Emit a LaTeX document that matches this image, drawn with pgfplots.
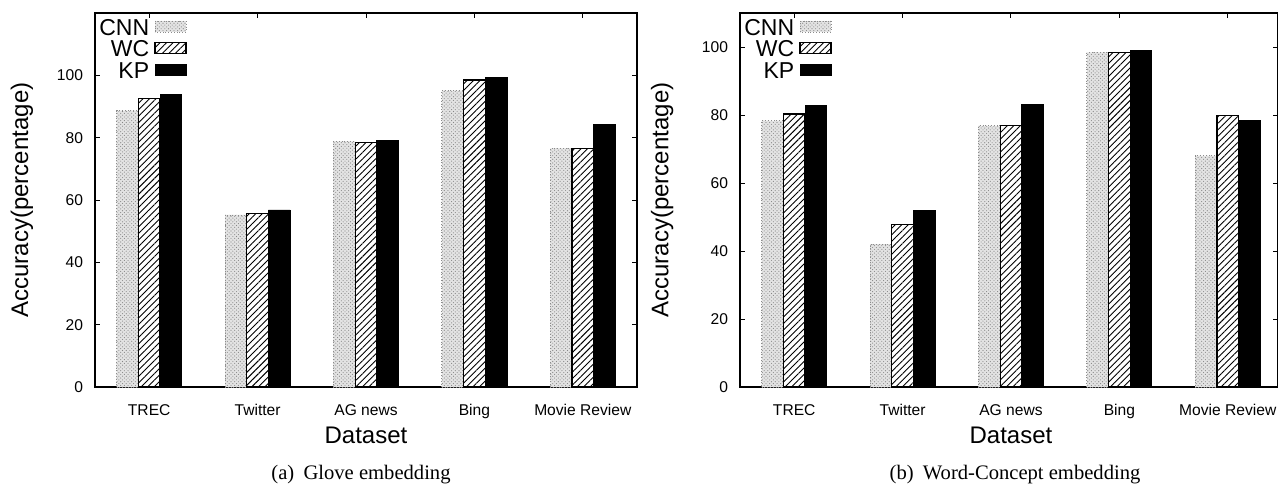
\documentclass[border=0pt]{standalone}
\usepackage{fontspec}
\setmainfont{Liberation Serif}
\newfontfamily\chartfont{Liberation Sans}
\usepackage{pgfplots}
\usepackage{pgfplotstable}
\pgfplotsset{compat=1.18}
\usetikzlibrary{patterns.meta}

% x: 0 TREC, 1 Twitter, 2 AG news, 3 Bing, 4 Movie Review
\pgfplotstableread{
x cnn wc kp
0 88.7 92.6 94.0
1 55.2 55.6 56.8
2 78.8 78.4 79.1
3 95.1 98.5 99.3
4 76.6 76.6 84.2
}\glove
\pgfplotstableread{
x cnn wc kp
0 78.3 80.3 82.7
1 42.0 47.8 52.0
2 76.8 77.0 83.0
3 98.4 98.4 99.1
4 68.0 79.8 78.4
}\wordconcept

\pgfplotsset{
  accbars/.style={
    scale only axis,
    width=271pt, height=187pt,
    ybar=0pt, bar width=0.2,
    ymin=0,
    xmin=-0.5,
    xtick={0,1,2,3,4},
    xticklabels={TREC,Twitter,AG news,Bing,Movie Review},
    ytick={0,20,40,60,80,100},
    tick align=inside,
    major tick length=2.5pt,
    axis line style={line width=0.6pt},
    every tick/.style={black, line width=0.5pt},
    /pgf/number format/assume math mode=true,
    xticklabel style={font=\chartfont\fontsize{7.8}{8}\selectfont, yshift=-5pt,
      text height=5.8pt, text depth=0pt},
    yticklabel style={font=\chartfont\fontsize{7.8}{8}\selectfont, xshift=-2.5pt},
    label style={font=\chartfont\fontsize{12}{12}\selectfont},
    xlabel={Dataset},
    ylabel={Accuracy(percentage)},
    legend cell align=right,
    legend plot pos=right,
    legend image code/.code={\draw[##1] (0pt,-2.3pt) rectangle (15.5pt,3.2pt);},
    legend style={at={(axis description cs:-0.006,0.998)}, anchor=north west,
      draw=none, fill=none, row sep=1.6pt, column sep=2pt,
      font=\chartfont\fontsize{11.5}{11.5}\selectfont,
      nodes={inner sep=0.6pt, text height=8pt, text depth=0pt}},
  },
  cnnbar/.style={draw=gray!90, densely dotted, line width=0.4pt, fill=gray!22,
    postaction={pattern={Lines[angle=-45,distance=1.3pt,line width=0.4pt]}, pattern color=gray!95}},
  wcbar/.style={draw=black, solid, line width=0.6pt, fill=white,
    postaction={pattern={Lines[angle=45,distance=2.3pt,line width=0.45pt]}, pattern color=black}},
  kpbar/.style={draw=black, fill=black, line width=0.4pt},
}

\begin{document}
\begin{tikzpicture}
\useasboundingbox (-47.5pt,-51pt) rectangle (591.5pt,193.5pt);

\begin{axis}[accbars,
  at={(0pt,0pt)},
  ymax=120, xmax=4.5,
  xlabel style={at={(axis description cs:0.5,-0.152)}, anchor=base},
  ylabel style={at={(axis description cs:-0.135,0.5)}, anchor=center},
]
\addplot[cnnbar] table[x=x,y=cnn]{\glove};
\addplot[wcbar] table[x=x,y=wc]{\glove};
\addplot[kpbar] table[x=x,y=kp]{\glove};
\legend{CNN,WC,KP}
\end{axis}
\node[font=\fontsize{10.3}{12}\selectfont, anchor=base] at (133pt,-46pt) {(a)\hspace{0.45em}Glove embedding};

\begin{axis}[accbars,
  at={(322.5pt,0pt)},
  width=268.8pt,
  ymax=110, xmax=4.46,
  xlabel style={at={(axis description cs:0.504,-0.152)}, anchor=base},
  ylabel style={at={(axis description cs:-0.145,0.5)}, anchor=center},
]
\addplot[cnnbar] table[x=x,y=cnn]{\wordconcept};
\addplot[wcbar] table[x=x,y=wc]{\wordconcept};
\addplot[kpbar] table[x=x,y=kp]{\wordconcept};
\legend{CNN,WC,KP}
\end{axis}
\node[font=\fontsize{10.3}{12}\selectfont, anchor=base] at (460pt,-46pt) {(b)\hspace{0.45em}Word-Concept embedding};
\end{tikzpicture}
\end{document}
